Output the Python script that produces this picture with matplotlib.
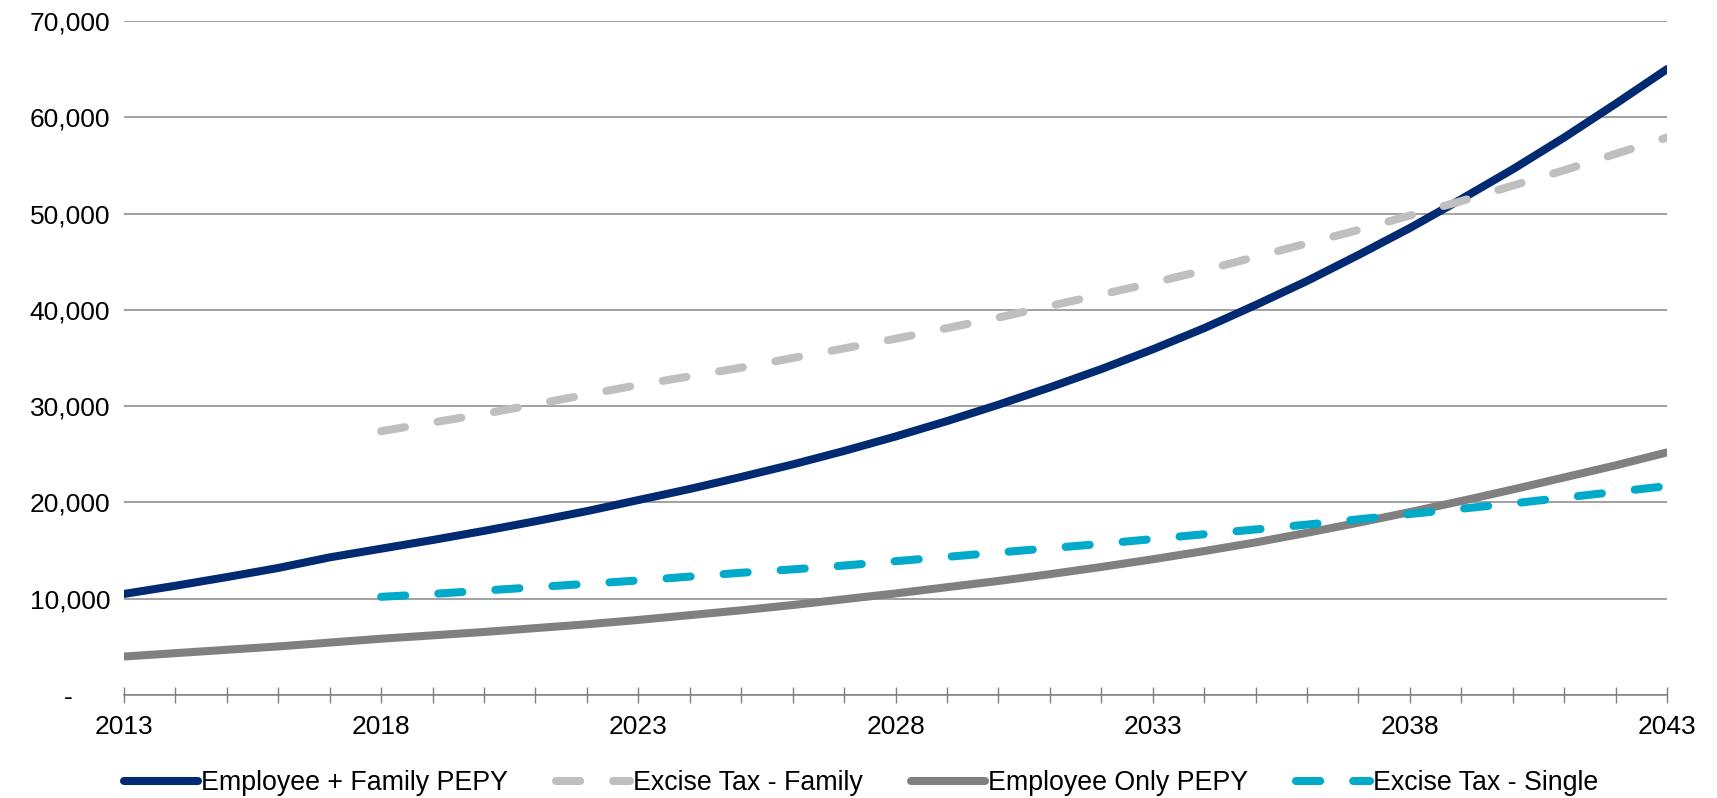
import matplotlib.pyplot as plt
from matplotlib.ticker import MultipleLocator, FixedLocator, FuncFormatter

plt.rcParams['font.family'] = ['Liberation Sans', 'DejaVu Sans']

years = list(range(2013, 2044))
tax_years = list(range(2018, 2044))

family_pepy = [10500, 11350, 12250, 13200, 14300, 15200, 16100, 17050, 18050, 19100,
               20250, 21400, 22650, 23950, 25350, 26850, 28450, 30150, 31950, 33850,
               35900, 38100, 40500, 43000, 45700, 48500, 51500, 54600, 57900, 61400,
               65000]
single_pepy = [4000, 4350, 4700, 5050, 5450, 5850, 6200, 6550, 6950, 7350,
               7800, 8300, 8800, 9350, 9950, 10550, 11200, 11850, 12550, 13300,
               14100, 14950, 15850, 16850, 17900, 19000, 20150, 21350, 22600, 23850,
               25200]
tax_family = [27400, 28300, 29200, 30200, 31200, 32200, 33100, 34000, 35000, 36000,
              37000, 38100, 39200, 40400, 41600, 42800, 44100, 45500, 46900, 48300,
              49800, 51300, 52900, 54500, 56200, 57900]
tax_single = [10200, 10500, 10850, 11200, 11550, 11900, 12300, 12700, 13050, 13450,
              13900, 14350, 14800, 15250, 15700, 16200, 16700, 17200, 17700, 18250,
              18800, 19350, 19900, 20500, 21100, 21700]

fig = plt.figure(figsize=(17.17, 7.98), dpi=100)
ax = fig.add_axes([0.0722, 0.129, 0.8987, 0.8447])

lw = 5.8
ax.plot(years, family_pepy, color='#002B73', lw=lw, solid_capstyle='round',
        label='Employee + Family PEPY')
ax.plot(tax_years, tax_family, color='#BFBFBF', lw=lw, dashes=(3.0, 4.1),
        dash_capstyle='round', label='Excise Tax - Family')
ax.plot(years, single_pepy, color='#808080', lw=lw, solid_capstyle='round',
        label='Employee Only PEPY')
ax.plot(tax_years, tax_single, color='#00AAC8', lw=lw, dashes=(3.0, 4.1),
        dash_capstyle='round', label='Excise Tax - Single')

ax.set_xlim(2013, 2043)
ax.set_ylim(0, 70000)

ax.xaxis.set_major_locator(FixedLocator(years[::5]))
ax.xaxis.set_minor_locator(MultipleLocator(1))
ax.yaxis.set_major_locator(MultipleLocator(10000))
ax.yaxis.set_major_formatter(FuncFormatter(
    lambda v, p: '-     ' if v == 0 else f'{int(v):,}'))

ax.tick_params(axis='x', which='both', direction='inout', length=11, width=1,
               color='#808080', labelsize=19, pad=9)
ax.tick_params(axis='y', length=0, labelsize=19, pad=10)

ax.grid(axis='y', color='#888888', lw=1.1)
ax.set_axisbelow(True)
for s in ['left', 'right', 'top']:
    ax.spines[s].set_visible(False)
ax.spines['bottom'].set_color('#808080')
ax.spines['bottom'].set_linewidth(1.1)

fig.legend(loc='lower left', bbox_to_anchor=(0.0722, 0.002), ncol=4,
           frameon=False, fontsize=19.3, handlelength=2.75, handletextpad=0.12,
           columnspacing=1.8, borderpad=0, borderaxespad=0)

fig.savefig('out.png', dpi=100)
